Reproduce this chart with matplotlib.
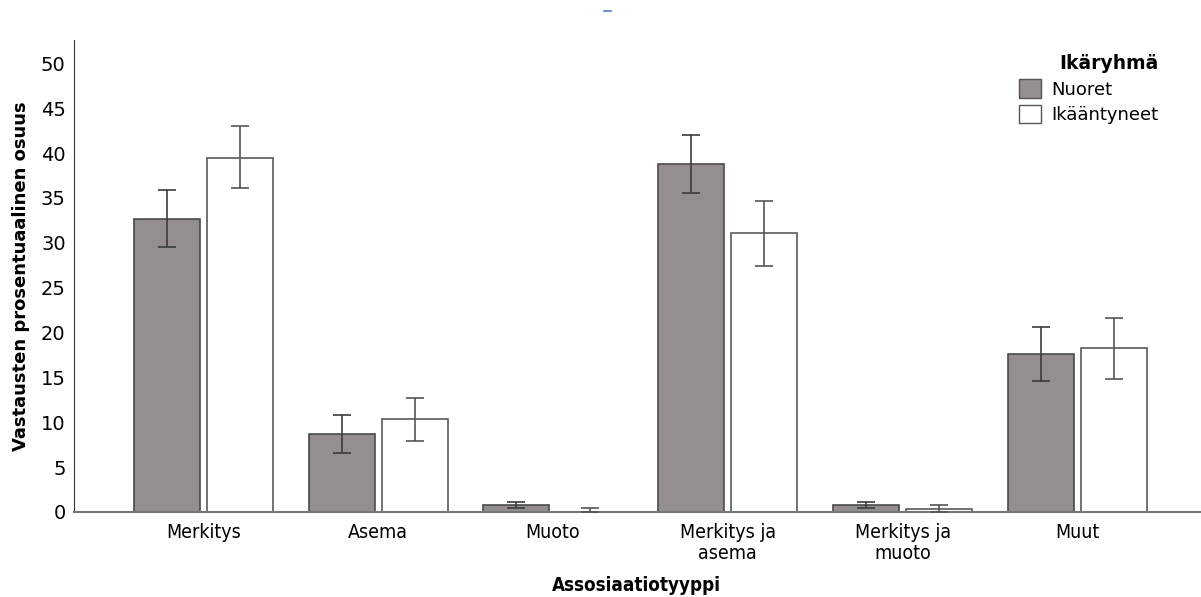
import numpy as np
from matplotlib import pyplot as plt
from matplotlib.patches import Patch

categories = ['Merkitys', 'Asema', 'Muoto', 'Merkitys ja\nasema', 'Merkitys ja\nmuoto', 'Muut']
nuoret = [32.7, 8.7, 0.8, 38.8, 0.8, 17.6]
nuoret_lo = [29.5, 6.6, 0.45, 35.5, 0.45, 14.6]
nuoret_hi = [35.9, 10.8, 1.1, 42.0, 1.1, 20.6]
ikaant = [39.5, 10.4, 0.05, 31.1, 0.35, 18.3]
ikaant_lo = [36.1, 7.9, 0.0, 27.4, 0.0, 14.8]
ikaant_hi = [43.0, 12.7, 0.45, 34.7, 0.8, 21.6]
yticks = [0, 5, 10, 15, 20, 25, 30, 35, 40, 45, 50]

fig = plt.figure(figsize=(12.01, 5.97), dpi=100)
ax = fig.add_axes([0.0616, 0.1424, 0.9374, 0.7906])

x = np.arange(len(categories))
w = 0.377
off = 0.209

n = np.array(nuoret)
i = np.array(ikaant)
n_err = [n - np.array(nuoret_lo), np.array(nuoret_hi) - n]
i_err = [i - np.array(ikaant_lo), np.array(ikaant_hi) - i]

ax.bar(x - off, n, w, color='#948f8e', edgecolor='#4a4a4a', linewidth=1.2, zorder=2)
ax.bar(x + off, i, w, color='white', edgecolor='#5a5a5a', linewidth=1.2, zorder=2)
ax.errorbar(x - off, n, yerr=n_err, fmt='none', ecolor='#3c3c3c', elinewidth=1.2,
            capsize=6.8, capthick=1.2, zorder=3)
ax.errorbar(x + off, i, yerr=i_err, fmt='none', ecolor='#555555', elinewidth=1.2,
            capsize=6.8, capthick=1.2, zorder=3)

ax.set_xlim(-0.74, 5.70)
ax.set_ylim(0, 52.6)
ax.set_yticks(yticks)
ax.set_xticks(x)
ax.set_xticklabels(categories, fontsize=14, fontstretch='condensed', linespacing=1.1)
ax.tick_params(axis='y', length=0, labelsize=14, pad=6)
ax.tick_params(axis='x', length=0, pad=8)
for s in ['top', 'right']:
    ax.spines[s].set_visible(False)
ax.spines['left'].set_color('#333333')
ax.spines['bottom'].set_color('#777777')
ax.spines['bottom'].set_linewidth(1.5)

ax.set_ylabel('Vastausten prosentuaalinen osuus', fontsize=13, fontweight='bold', labelpad=8)
ax.set_xlabel('Assosiaatiotyyppi', fontsize=13.5, fontweight='bold', fontstretch='condensed', labelpad=10)

handles = [Patch(facecolor='#948f8e', edgecolor='#555555', label='Nuoret'),
           Patch(facecolor='white', edgecolor='#555555', label='Ikääntyneet')]
leg = ax.legend(handles=handles, title='Ikäryhmä', loc='upper right', bbox_to_anchor=(0.978, 1.005),
                frameon=False, fontsize=13, title_fontproperties={'weight': 'bold', 'size': 13.5},
                handlelength=1.2, handleheight=1.2, handletextpad=0.6, labelspacing=0.35)
leg._legend_box.align = 'right'

fig.add_artist(plt.Line2D([0.5025, 0.5085], [0.982, 0.982], color='#4a7fd4', linewidth=1.2))

fig.savefig('out.png', dpi=100)
